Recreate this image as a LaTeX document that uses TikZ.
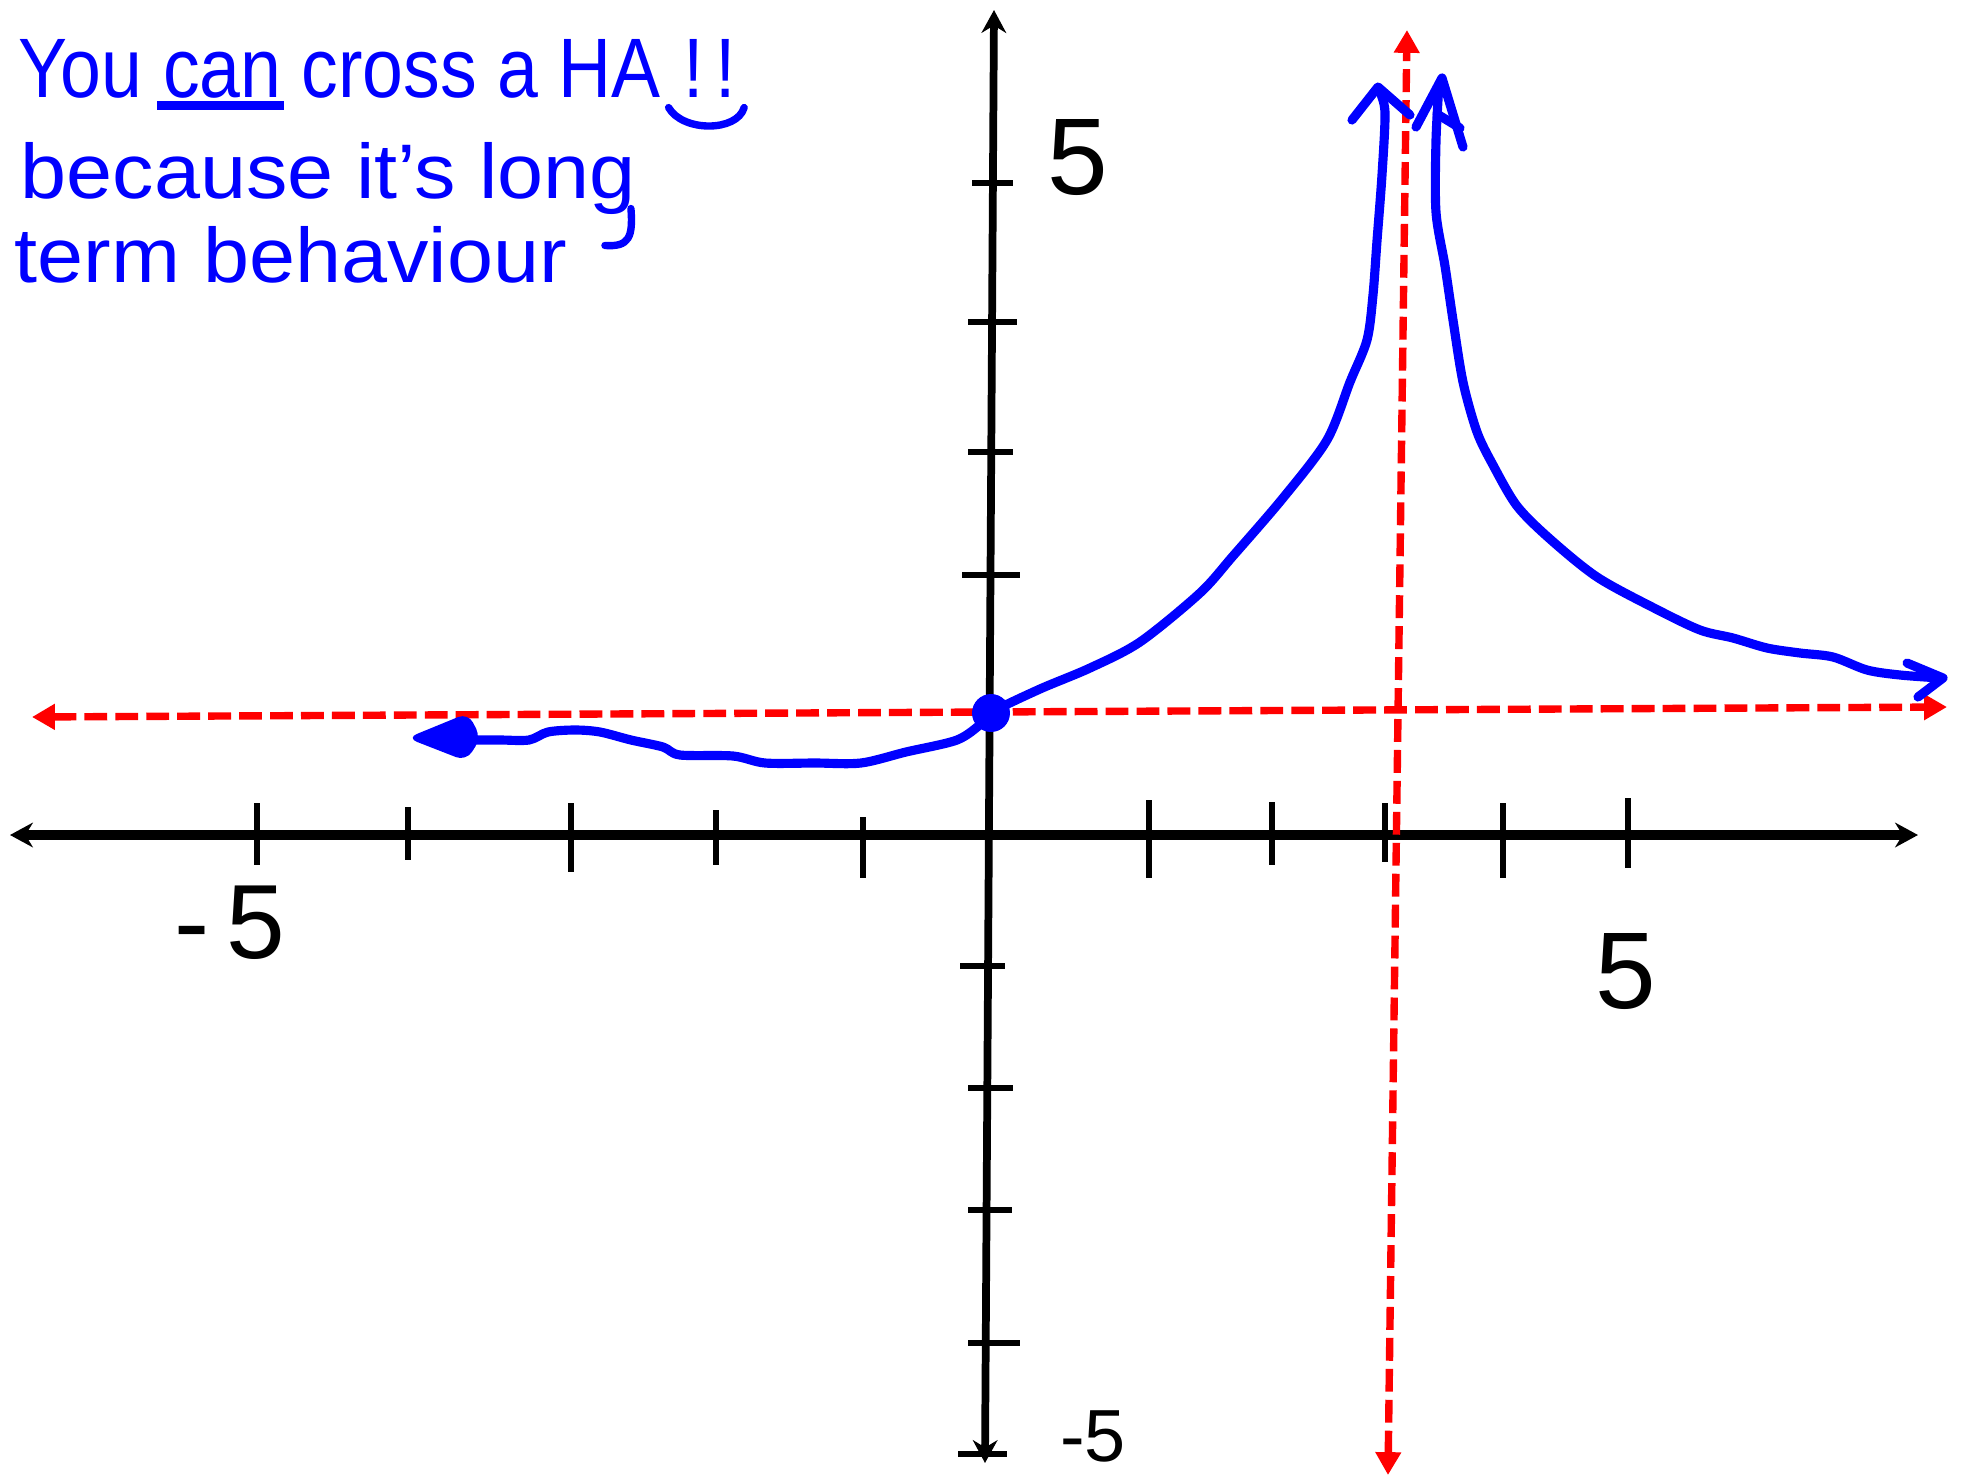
\documentclass[tikz,border=0pt]{standalone}
\usepackage{fontspec}
\setmainfont{Liberation Sans}
\usepackage{graphicx}
\usetikzlibrary{arrows.meta}
\definecolor{penblue}{RGB}{0,0,255}
\definecolor{penred}{RGB}{255,0,0}
\newcommand\myul[1]{\setbox0\hbox{#1}\rlap{\kern-0.08em\rule[-0.15em]{\dimexpr\wd0+0.12em\relax}{0.1em}}\box0\relax}
\begin{document}
\begin{tikzpicture}[x=0.01cm,y=-0.01cm,
  axis/.style={black,line width=2.8pt},
  yaxis/.style={black,line width=2.2pt},
  tickmark/.style={black,line width=1.6pt},
  curve/.style={penblue,line width=2.6pt,line cap=round,line join=round},
  asym/.style={penred,line width=2.1pt,dash pattern=on 6.5pt off 2.3pt},
  lab/.style={black,inner sep=0pt,font=\fontsize{31}{34}\selectfont},
  note/.style={penblue,inner sep=0pt,anchor=base west,font=\fontsize{22}{26}\selectfont},
  pen/.style={penblue,line width=2.1pt,line cap=round,line join=round},
]
\useasboundingbox (0,0) rectangle (1965,1481);
\fill[white] (0,0) rectangle (1965,1481);

% named end points
\coordinate (xl) at (10,835);
\coordinate (xr) at (1918,835);
\coordinate (yb) at (985,1463);
\coordinate (yt) at (994,10);
\coordinate (hal) at (32,717);
\coordinate (har) at (1947,707);
\coordinate (vat) at (1407,30);
\coordinate (vab) at (1388,1475);

% axes
\draw[axis,{Stealth[length=6.5pt,width=7pt]}-{Stealth[length=6.5pt,width=7pt]}] (xl) -- (xr);
\draw[yaxis,{Stealth[length=6.5pt,width=7pt]}-{Stealth[length=6.5pt,width=7pt]}] (yb) -- (yt);

% x ticks
\foreach \x/\a/\b in {257/803/865,408/807/860,571/803/872,716/810/865,863/817/878,
                      1149/800/878,1272/802/865,1385/803/862,1503/803/878,1628/798/868}
  \draw[tickmark] (\x,\a) -- (\x,\b);
% y ticks
\foreach \y/\a/\b in {183/972/1013,322/968/1017,452/968/1013,575/962/1020,
                      966/960/1005,1088/968/1013,1210/968/1012,1343/968/1020,1454/958/1007}
  \draw[tickmark] (\a,\y) -- (\b,\y);

% asymptotes
\draw[asym,{Triangle[length=6.5pt,width=7pt]}-{Triangle[length=6.5pt,width=7pt]}] (hal) -- (har);
\draw[asym,{Triangle[length=6.5pt,width=7pt]}-{Triangle[length=6.5pt,width=7pt]}] (vab) -- (vat);

% left + middle branch
\draw[curve] plot[smooth,tension=0.5] coordinates {
  (470,740) (500,740) (529,740) (548,732) (575,730) (600,732) (631,740) (663,747)
  (680,755) (733,756) (765,763) (815,763) (861,763) (906,752) (957,740) (982,723)
  (992,712) (1040,689) (1090,668) (1140,642) (1200,593) (1233,556) (1283,498)
  (1327,440) (1350,382) (1367,340) (1373,295) (1377,241) (1382,175) (1385,112) (1379,90)};
\fill[penblue,rounded corners=3pt] (407,738) -- (468,713) -- (481,738) -- (466,761) -- cycle;
\draw[curve] (1352,120) -- (1378,87) -- (1410,115);

% right branch
\draw[curve] plot[smooth,tension=0.5] coordinates {
  (1439,84) (1436,141) (1436,212) (1445,266) (1453,320) (1463,382) (1477,432) (1493,465)
  (1517,506) (1550,539) (1597,577) (1654,608) (1700,630) (1733,638) (1767,648)
  (1800,653) (1833,657) (1867,670) (1900,675) (1940,678)};
\draw[curve] (1416,127) -- (1442,78) -- (1463,147);
\draw[curve] (1437,114) -- (1460,128);
\draw[curve] (1907,663) -- (1943,678) -- (1918,697);

% y-intercept
\node[circle,fill=penblue,minimum size=10.8pt,inner sep=0pt] (dot) at (991,713) {};

% axis labels
\node[lab] (ytop) at (1078,158) {5};
\node[lab] (xpos) at (1626,972) {5};
\node[lab,font=\fontsize{30}{33}\selectfont] (xneg) at (230,923) {-\,5};
\node[lab,font=\fontsize{21}{24}\selectfont] (yneg) at (1093,1436) {-5};

% note
\node[note,font=\fontsize{24}{28}\selectfont] (line1) at (18,97) {\scalebox{0.87}[1]{You \myul{can} cross a HA}};
\node[note,font=\fontsize{24}{28}\selectfont,anchor=base west] (excl) at ([xshift=6pt]line1.base east) {\scalebox{0.87}[1]{!\,!}};
\draw[pen]
  ([xshift=-4pt,yshift=-3pt]excl.base west) .. controls ([yshift=-10pt]excl.base west) and ([yshift=-10pt]excl.base east) .. ([xshift=2pt,yshift=-3pt]excl.base east);
\node[note] (line2) at (20,198) {\scalebox{1.07}[1]{because it's long}};
\node[note] (line3) at (14,282) {\scalebox{1.07}[1]{term behaviour}};
\draw[pen] ([xshift=-1.6pt,yshift=-3pt]line2.base east) .. controls ([xshift=-1pt,yshift=-11pt]line2.base east) and ([xshift=-2pt,yshift=-14pt]line2.base east) .. ([xshift=-9pt,yshift=-13.5pt]line2.base east);
\end{tikzpicture}
\end{document}
